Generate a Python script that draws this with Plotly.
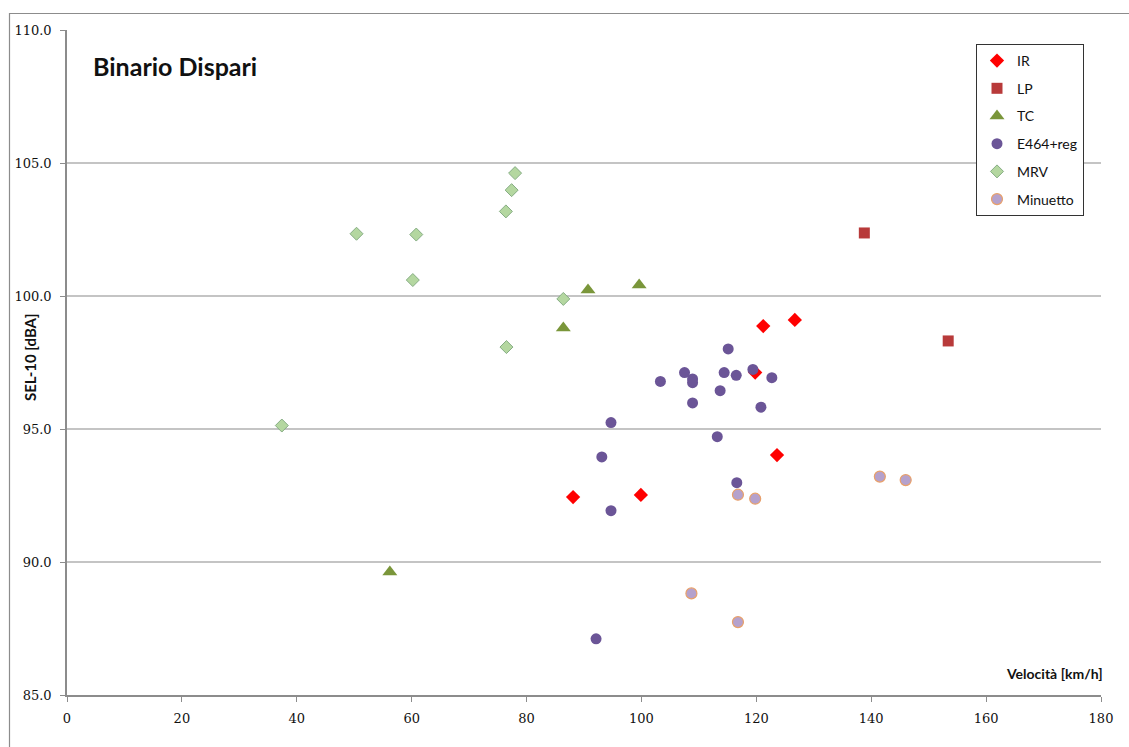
import plotly.graph_objects as go

# Velocità [km/h] and SEL-10 [dBA] per train category
ir_v = [88.1, 99.9, 121.2, 126.7, 123.6, 119.8]
ir_sel = [92.44, 92.52, 98.87, 99.10, 94.02, 97.12]

lp_v = [138.8, 153.4]
lp_sel = [102.37, 98.31]

tc_v = [56.2, 86.4, 90.7, 99.6]
tc_sel = [89.62, 98.80, 100.23, 100.41]

e464_v = [115.1, 103.3, 107.5, 108.9, 108.9, 108.9, 114.4, 116.5, 113.7,
          119.4, 122.7, 120.8, 113.2, 94.7, 93.1, 94.7, 116.6, 92.1]
e464_sel = [98.01, 96.79, 97.12, 96.88, 96.74, 95.98, 97.12, 97.02, 96.44,
            97.24, 96.93, 95.82, 94.71, 95.24, 93.95, 91.93, 92.98, 87.11]

mrv_v = [78.0, 77.4, 76.4, 50.4, 60.8, 60.2, 76.5, 37.4, 86.4]
mrv_sel = [104.62, 103.98, 103.18, 102.34, 102.31, 100.60, 98.08, 95.13, 99.89]

min_v = [116.8, 119.8, 108.7, 116.8, 141.5, 146.0]
min_sel = [92.53, 92.38, 88.82, 87.74, 93.21, 93.08]

x_ticks = [0, 20, 40, 60, 80, 100, 120, 140, 160, 180]
y_ticks = [85, 90, 95, 100, 105, 110]

W, H = 1129, 747
ML, MR, MT, MB = 67, 28, 30, 52
PW, PH = W - ML - MR, H - MT - MB

series = [
    ("IR", ir_v, ir_sel, dict(symbol="diamond", size=11, color="#ff0000",
                               line=dict(width=0))),
    ("LP", lp_v, lp_sel, dict(symbol="square", size=11, color="#b83a3a",
                               line=dict(width=0))),
    ("TC", tc_v, tc_sel, dict(symbol="triangle-up", size=13, color="#7a963a",
                               line=dict(width=0))),
    ("E464+reg", e464_v, e464_sel, dict(symbol="circle", size=11, color="#6b5597",
                                         line=dict(width=0))),
    ("MRV", mrv_v, mrv_sel, dict(symbol="diamond", size=10, color="#b4d7a0",
                                  line=dict(width=1, color="#86ad84"))),
    ("Minuetto", min_v, min_sel, dict(symbol="circle", size=11, color="#b5a1cc",
                                       line=dict(width=1.2, color="#e8a06a"))),
]

fig = go.Figure()
for i, (name, xs, ys, mk) in enumerate(series):
    fig.add_trace(go.Scatter(x=xs, y=ys, mode="markers", name=name,
                             marker=mk, legendgroup=f"g{i}"))

axis_col = "#8c8c8c"
tick_font = dict(family="DejaVu Serif", size=13, color="#111111")

fig.update_layout(
    width=W, height=H,
    margin=dict(l=ML, r=MR, t=MT, b=MB),
    paper_bgcolor="white", plot_bgcolor="white",
    showlegend=True,
    legend=dict(
        x=(976 - ML) / PW, y=1 - (44 - MT) / PH, xanchor="left", yanchor="top",
        bgcolor="white", bordercolor="#333333", borderwidth=1,
        font=dict(family="Lato", size=14, color="#111111"),
        tracegroupgap=6.5,
    ),
    xaxis=dict(range=[0, 180], tickvals=x_ticks, showgrid=False,
               showline=True, linecolor=axis_col, linewidth=1.5,
               ticks="outside", ticklen=5, tickcolor=axis_col,
               tickfont=tick_font, zeroline=False, ticklabelstandoff=6),
    yaxis=dict(range=[85, 110], tickvals=y_ticks, tickformat=".1f",
               showgrid=True, gridcolor="#c4c4c4", gridwidth=1.5,
               showline=True, linecolor=axis_col, linewidth=1.5,
               ticks="outside", ticklen=5, tickcolor=axis_col,
               tickfont=tick_font, zeroline=False, ticklabelstandoff=6),
)

# chart title and axis titles
fig.add_annotation(text="<b>Binario Dispari</b>", xref="paper", yref="paper",
                   x=(91 - ML) / PW, y=1 - (66 - MT) / PH, xanchor="left",
                   yanchor="middle", showarrow=False,
                   font=dict(family="Lato", size=25, color="#111111"))
fig.add_annotation(text="<b>SEL-10 [dBA]</b>", xref="paper", yref="paper",
                   x=(30 - ML) / PW, y=1 - (358 - MT) / PH, textangle=-90,
                   xanchor="center", yanchor="middle", showarrow=False,
                   font=dict(family="Lato", size=15, color="#111111"))
fig.add_annotation(text="<b>Velocità [km/h]</b>", xref="paper", yref="paper",
                   x=(1105 - ML) / PW, y=1 - (673 - MT) / PH, xanchor="right",
                   yanchor="middle", showarrow=False,
                   font=dict(family="Lato", size=14, color="#111111"))

# outer chart frame
fig.add_shape(type="rect", xref="paper", yref="paper",
              x0=(9.5 - ML) / PW, x1=(W + 20 - ML) / PW,
              y0=1 - (H + 20 - MT) / PH, y1=1 + (MT - 13.5) / PH,
              line=dict(color="#8c8c8c", width=1.2), layer="below")

fig.write_html("out.html")
